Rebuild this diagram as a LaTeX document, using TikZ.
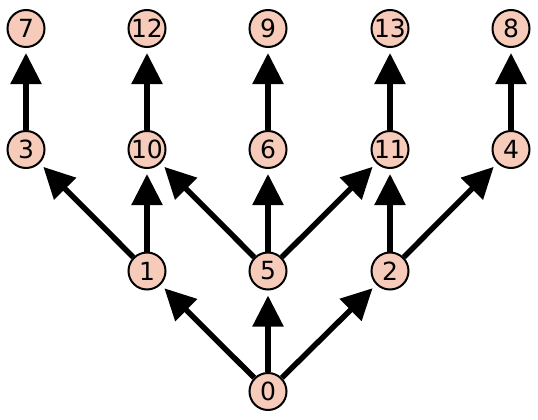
\documentclass[tikz,border=0pt]{standalone}
\usepackage{fontspec}
\setmainfont{DejaVu Sans}
\usetikzlibrary{arrows.meta}
\definecolor{nodefill}{HTML}{F7CBBA}
\begin{document}
\begin{tikzpicture}[x=1pt,y=-1pt,
  vtx/.style={circle,draw=black,line width=2pt,fill=nodefill,minimum size=37pt,inner sep=0pt,font=\fontsize{25}{25}\selectfont},
  edge/.style={line width=5.5pt,-{Triangle[length=31pt,width=30pt]},shorten >=5pt}]
\useasboundingbox (0,0) rectangle (538,420);
\node[vtx] (n7) at (26,28.5) {7};
\node[vtx] (n12) at (147,28.5) {12};
\node[vtx] (n9) at (268,28.5) {9};
\node[vtx] (n13) at (390,28.5) {13};
\node[vtx] (n8) at (511,28.5) {8};
\node[vtx] (n3) at (26,149.5) {3};
\node[vtx] (n10) at (147,149.5) {10};
\node[vtx] (n6) at (268,149.5) {6};
\node[vtx] (n11) at (390,149.5) {11};
\node[vtx] (n4) at (511,149.5) {4};
\node[vtx] (n1) at (147,271) {1};
\node[vtx] (n5) at (268,271) {5};
\node[vtx] (n2) at (390,271) {2};
\node[vtx] (n0) at (268,391.5) {0};
\foreach \a/\b in {n3/n7,n10/n12,n6/n9,n11/n13,n4/n8,n1/n3,n1/n10,n5/n10,n5/n6,n5/n11,n2/n11,n2/n4,n0/n1,n0/n5,n0/n2}
  \draw[edge] (\a) -- (\b);
\end{tikzpicture}
\end{document}
